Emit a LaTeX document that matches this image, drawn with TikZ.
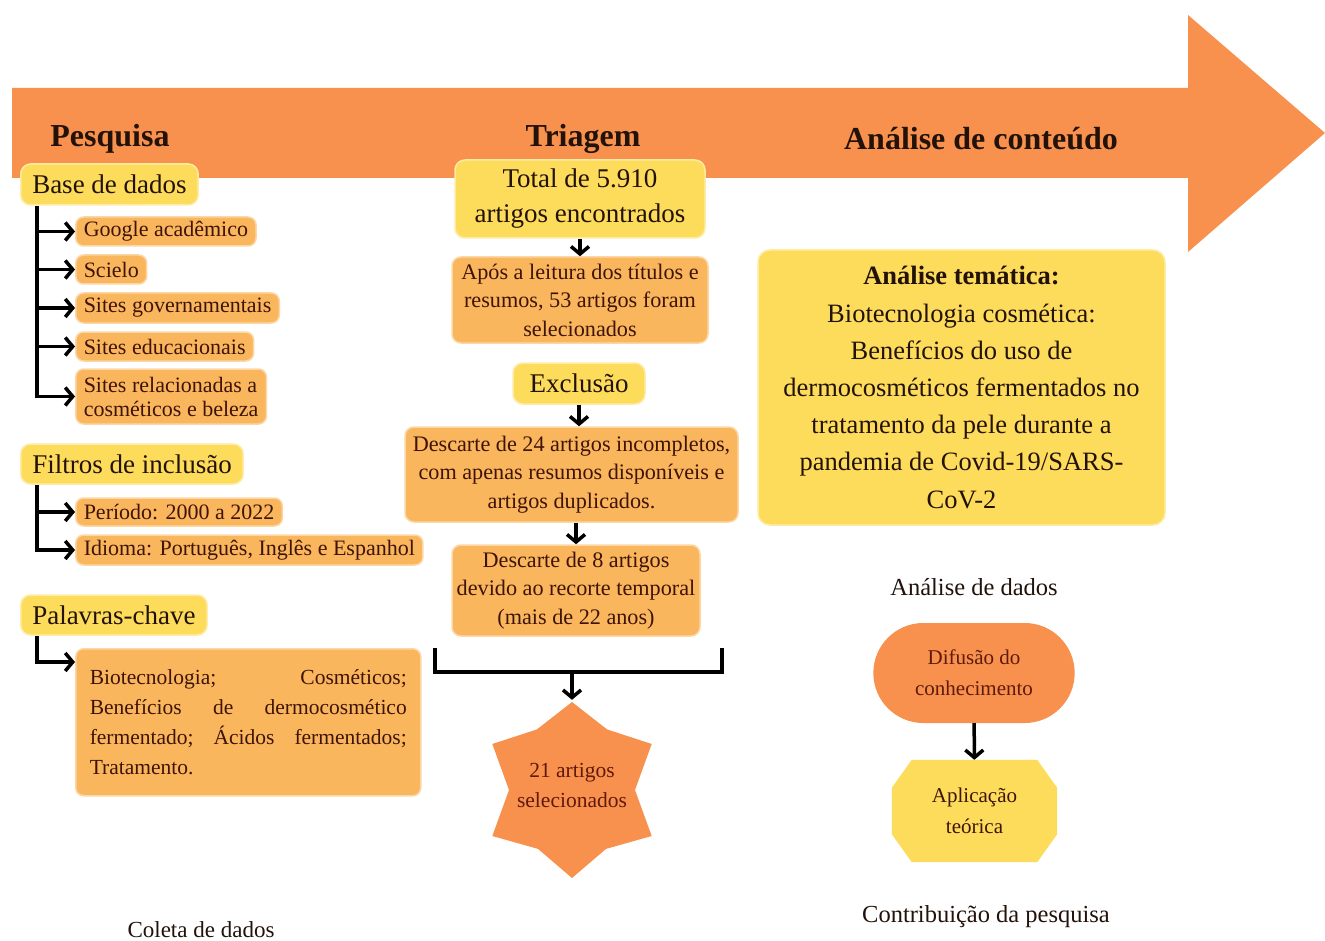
\documentclass[tikz,border=0pt]{standalone}
\usepackage{fontspec}
\setmainfont{Liberation Serif}
\usetikzlibrary{arrows.meta,shapes.geometric,shapes.misc}
\pgfdeclarelayer{background}
\pgfdeclarelayer{canvas}
\pgfsetlayers{canvas,background,main}
\definecolor{arrowor}{HTML}{F8914D}
\definecolor{boxor}{HTML}{FAB65D}
\definecolor{boxyel}{HTML}{FDDC5C}
\definecolor{txt}{HTML}{22120A}
\definecolor{txtr}{HTML}{3E1408}
\definecolor{txtd}{HTML}{5E1A0C}
\begin{document}
\begin{tikzpicture}[x=1pt,y=-1pt,
  title/.style={text=txt,font=\fontsize{32}{38}\selectfont\bfseries},
  ybox/.style={fill=boxyel,draw=boxyel!55!white,line width=1.5pt,rounded corners=10pt,text=txt,inner xsep=11.5pt,inner ysep=4pt,font=\fontsize{27}{35}\selectfont,align=center},
  obox/.style={fill=boxor,draw=boxor!55!white,line width=1.5pt,rounded corners=8pt,text=txtr,inner xsep=8pt,inner ysep=3pt,font=\fontsize{22}{24}\selectfont,align=left},
  mbox/.style={fill=boxor,draw=boxor!55!white,line width=1.5pt,rounded corners=9pt,text=txtr,font=\fontsize{22.2}{28.5}\selectfont,align=center},
  plain/.style={text=txt,font=\fontsize{24.5}{30}\selectfont},
  conn/.style={line width=3.5pt,draw=black,-{Straight Barb[length=7.5pt,width=18pt]}},
  bracketline/.style={line width=3.5pt,draw=black}
]
\useasboundingbox (0,0) rectangle (1325,941);
\begin{pgfonlayer}{canvas}
\fill[white] (0,0) rectangle (1325,941);
\end{pgfonlayer}
% big arrow
\fill[arrowor] (12,88) -- (1188,88) -- (1188,15) -- (1325,133) -- (1188,252) -- (1188,178) -- (12,178) -- cycle;
\node[title] (tp) at (110,139) {Pesquisa};
\node[title] (tt) at (583,139) {Triagem};
\node[title] (ta) at (981,139) {Análise de conteúdo};

% ---------- left column
\node[ybox,anchor=west,minimum height=41pt] (bd) at (20,184.5) {Base de dados};
\node[obox,anchor=west,minimum height=29pt] (b1) at (75,231.5) {Google acadêmico};
\node[obox,anchor=west,minimum height=29pt] (b2) at (75,269.5) {Scielo};
\node[obox,anchor=west,minimum height=30pt] (b3) at (75,308) {Sites governamentais};
\node[obox,anchor=west,minimum height=29pt] (b4) at (75,346.5) {Sites educacionais};
\node[obox,anchor=west,minimum height=55pt] (b5) at (75,396.5) {Sites relacionadas a\\cosméticos e beleza};
\coordinate (bdl) at ([xshift=17pt]bd.south west);
\draw[conn] (bdl) |- (b5.west);
\foreach \n in {b1,b2,b3,b4} \draw[conn] (bdl |- \n.west) -- (\n.west);

\node[ybox,anchor=west,minimum height=40pt] (fi) at (20,464) {Filtros de inclusão};
\node[obox,anchor=west,minimum height=28pt] (p1) at (75,512) {Período: 2000 a 2022};
\node[obox,anchor=west,minimum height=30pt] (p2) at (75,550) {Idioma: Português, Inglês e Espanhol};
\coordinate (fil) at ([xshift=17pt]fi.south west);
\draw[conn] (fil) |- (p2.west);
\draw[conn] (fil |- p1.west) -- (p1.west);

\node[ybox,anchor=west,minimum height=40pt] (pc) at (20,615) {Palavras-chave};
\node[obox,anchor=north west,text width=317pt,inner xsep=14pt,minimum height=147pt,font=\fontsize{21.5}{30}\selectfont] (kw) at (75,648)
  {Biotecnologia;\hfill Cosméticos;\\
   Benefícios\hfill de\hfill dermocosmético\\
   fermentado;\hfill Ácidos\hfill fermentados;\\
   Tratamento.};
\draw[conn] ([xshift=17pt]pc.south west) |- ([yshift=-14pt]kw.north west);

\node[plain,font=\fontsize{23}{28}\selectfont] (cd) at (201,930) {Coleta de dados};

% ---------- middle column
\node[ybox,minimum width=250pt,minimum height=78pt] (t1) at (580,199) {Total de 5.910\\artigos encontrados};
\node[mbox,minimum width=256pt,minimum height=86pt] (t2) at (580,300) {Após a leitura dos títulos e\\resumos, 53 artigos foram\\selecionados};
\node[ybox,minimum width=132pt,minimum height=41pt] (t3) at (579,383.5) {Exclusão};
\node[mbox,minimum width=333pt,minimum height=95pt] (t4) at (571.5,474.5) {Descarte de 24 artigos incompletos,\\com apenas resumos disponíveis e\\artigos duplicados.};
\node[mbox,minimum width=248pt,minimum height=91pt] (t5) at (576,590.5) {Descarte de 8 artigos\\devido ao recorte temporal\\(mais de 22 anos)};
\draw[conn] (t1.south) -- (t2.north);
\draw[conn] (t3.south) -- (t3.south |- t4.north);
\draw[conn] (t5.north |- t4.south) -- (t5.north);
\coordinate (bl) at (435,648);
\coordinate (br) at (722,648);
\coordinate (bm) at (572,672);
\draw[bracketline] (bl) -- (bl |- bm) -- (br |- bm) -- (br);
\node[circle,minimum size=170pt,inner sep=0pt,text=txtd,align=center,font=\fontsize{21.5}{30}\selectfont] (st) at (572,785) {21 artigos\\selecionados};
\begin{pgfonlayer}{background}
\fill[arrowor,shift={([yshift=-5pt]st.center)}] (90:88) -- (120:68) -- (150:92) -- (180:63) -- (210:92) -- (240:70) -- (270:88) -- (300:70) -- (330:92) -- (0:63) -- (30:92) -- (60:68) -- cycle;
\end{pgfonlayer}
\draw[conn] (bm) -- (st.north);

% ---------- right column
\node[fill=boxyel,draw=boxyel!55!white,line width=1.5pt,rounded corners=12pt,minimum width=407pt,minimum height=275pt,text=txt,align=center,font=\fontsize{26.5}{37.2}\selectfont] (at) at (961.5,387.5)
  {\textbf{Análise temática:}\\Biotecnologia cosmética:\\Benefícios do uso de\\dermocosméticos fermentados no\\tratamento da pele durante a\\pandemia de Covid-19/SARS-\\CoV-2};
\node[plain] (ad) at (974,587) {Análise de dados};
\node[rounded rectangle,fill=arrowor,minimum width=208pt,minimum height=100pt,text=txtd,align=center,font=\fontsize{21}{31}\selectfont] (d1) at (974,673) {Difusão do\\conhecimento};
\node[rectangle,minimum width=165pt,minimum height=102pt,inner sep=0pt,text=txtr,align=center,font=\fontsize{21}{31}\selectfont] (d2) at (974.5,811) {Aplicação\\teórica};
\begin{pgfonlayer}{background}
\fill[boxyel] ([xshift=20pt]d2.north west) -- ([xshift=-20pt]d2.north east) -- ([yshift=-28pt]d2.north east) -- ([yshift=28pt]d2.south east) -- ([xshift=-20pt]d2.south east) -- ([xshift=20pt]d2.south west) -- ([yshift=28pt]d2.south west) -- ([yshift=-28pt]d2.north west) -- cycle;
\end{pgfonlayer}
\draw[conn] (d1) -- (d2);
\node[plain] (cp) at (986,917) {Contribuição da pesquisa};
\end{tikzpicture}
\end{document}
